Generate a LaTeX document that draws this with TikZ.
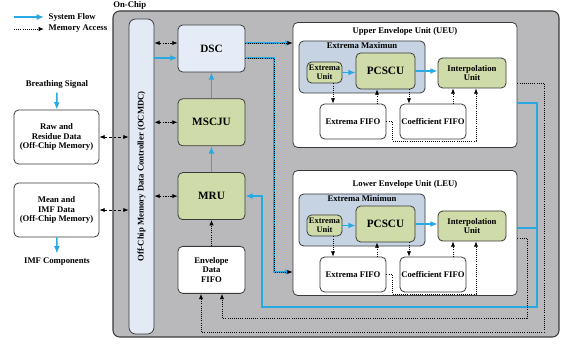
\documentclass[tikz,border=0pt]{standalone}
\usepackage{fontspec}
\setmainfont{Liberation Serif}
\newfontfamily\diagfont{Liberation Serif}
\usepackage{graphicx}
\usepackage{tikz}
\usetikzlibrary{arrows.meta, positioning, calc}
\definecolor{chipfill}{HTML}{B9B9BC}
\definecolor{ctrlfill}{HTML}{E3EAF5}
\definecolor{dscfill}{HTML}{E6ECF7}
\definecolor{unitgreen}{HTML}{CFDBA8}
\definecolor{extremafill}{HTML}{C6D3E3}
\definecolor{flowblue}{HTML}{29A9E1}
\definecolor{boxstroke}{HTML}{3A3A3A}
\newcommand{\smalltext}{\diagfont\fontsize{6.5}{7.3}\selectfont\bfseries}
\newcommand{\bigtext}{\diagfont\fontsize{8.4}{9.5}\selectfont\bfseries}

\begin{document}
\begin{tikzpicture}[
        x=0.75pt, y=-0.75pt,
        node distance=19.5pt,
        box/.style={
            rectangle,
            rounded corners=3.5pt,
            draw=boxstroke,
            line width=0.6pt,
            align=center,
            font=\smalltext,
            inner sep=1pt
        },
        greenbox/.style={box, fill=unitgreen},
        whitebox/.style={box, fill=white},
        core/.style={minimum width=50.25pt, minimum height=35.25pt},
        flow/.style={-{Latex[length=5.5pt, width=4.5pt]}, draw=flowblue, line width=1.1pt},
        mem/.style={-{Latex[length=4pt, width=3.2pt]}, densely dotted, line width=0.6pt},
        memio/.style={{Latex[length=4pt, width=3.2pt]}-{Latex[length=4pt, width=3.2pt]}, dash pattern=on 1.5pt off 1pt on 0.5pt off 1pt, line width=0.6pt},
        ext/.style={memio, dash pattern=on 2pt off 1.5pt}
    ]
        \useasboundingbox (0,0) rectangle (565,345);

        % Legend
        \coordinate (flowtail) at (14,17);
        \node[font=\smalltext, anchor=west] (flowkey) at (44,17) {System Flow};
        \coordinate (memtail) at (14,29);
        \node[font=\smalltext, anchor=west] (memkey) at (44,29) {Memory Access};

        % On-chip area and controller
        \node[box, fill=chipfill, rounded corners=5pt, line width=0.8pt, minimum width=334.5pt, minimum height=244.5pt,
              label={[anchor=south west, inner sep=0.5pt, font=\smalltext]north west:On-Chip}] (chip) at (336,174) {};
        \node[box, fill=ctrlfill, rounded corners=5pt, minimum width=18.75pt, minimum height=236.25pt] (ocmdc) at (141.5,176.5)
            {\rotatebox{90}{Off-Chip Memory Data Controller (OCMDC)}};

        % Off-chip memories
        \node[whitebox, minimum width=63.75pt, minimum height=40.5pt] (raw) at (56.5,137) {Raw and\\Residue Data\\(Off-Chip Memory)};
        \node[whitebox, minimum width=63.75pt, minimum height=40.5pt] (mean) at (56.5,210) {Mean and\\IMF Data\\(Off-Chip Memory)};
        \node[font=\smalltext] (breath) at (57,84) {Breathing Signal};
        \node[font=\smalltext] (imf) at (57,262) {IMF Components};

        % Main column
        \node[box, core, fill=dscfill, font=\bigtext] (dsc) at (211.5,48.5) {DSC};
        \node[greenbox, core, font=\bigtext, below=of dsc] (mscju) {MSCJU};
        \node[greenbox, core, font=\bigtext, below=of mscju] (mru) {MRU};
        \node[whitebox, core, below=of mru] (fifo) {Envelope\\Data\\FIFO};

        % Envelope units
        \foreach \p/\dy/\ey/\name/\ext in {u/0/85/{Upper Envelope Unit (UEU)}/{Extrema Maximun},
                                          l/153/80/{Lower Envelope Unit (LEU)}/{Extrema Minimun}} {
            \begin{scope}[shift={(0,\dy)}]
                \node[whitebox, minimum width=168pt, minimum height=93.75pt] (\p eu) at (405,\ey) {};
                \node[font=\smalltext] (\p title) at (405,31) {\name};
                \node[box, fill=extremafill, minimum width=94.5pt, minimum height=39pt,
                      label={[anchor=north, font=\smalltext, inner sep=1pt]north:\ext}] (\p region) at (362,67) {};
                \node[greenbox, font=\diagfont\fontsize{6.3}{6.6}\selectfont\bfseries, inner sep=0.3pt,
                      minimum width=26.25pt, minimum height=15.75pt] (\p ext) at (324.5,72.5) {Extrema\\Unit};
                \node[greenbox, font=\bigtext, minimum width=44.25pt, minimum height=27pt] (\p pcscu) at (385.5,71) {PCSCU};
                \node[greenbox, minimum width=51pt, minimum height=22.5pt] (\p interp) at (472,73) {Interpolation\\Unit};
                \node[whitebox, minimum width=49.5pt, minimum height=26.25pt] (\p efifo) at (353,121.5) {Extrema FIFO};
                \node[whitebox, inner sep=0.3pt, minimum width=49.5pt, minimum height=26.25pt] (\p cfifo) at (433,121.5) {Coefficient FIFO};

                \draw[flow] (\p ext.east) -- (\p ext.east -| \p pcscu.west);
                \draw[flow] (\p pcscu.east) -- (\p pcscu.east -| \p interp.west);
                \draw[mem] (\p ext.south -| 333,0) -- (\p efifo.north -| 333,0);
                \draw[mem] (\p efifo.north -| 377,0) -- (\p pcscu.south -| 377,0);
                \draw[mem] (\p pcscu.south -| 409,0) -- (\p cfifo.north -| 409,0);
                \draw[mem] (\p cfifo.north -| 453,0) -- (\p interp.south -| 453,0);
                \draw[mem] (\p efifo.east) -| (392,141) -| (\p interp.south -| 476,0);
            \end{scope}
        }

        % Arrows
        \draw[flow] (flowtail) -- (flowkey.west);
        \draw[mem] (memtail) -- (memkey.west);
        \draw[flow] (breath) -- (raw);
        \draw[flow] (mean) -- (imf);
        \draw[ext] (raw.east) -- (raw.east -| ocmdc.west);
        \draw[ext] (mean.east) -- (mean.east -| ocmdc.west);

        \draw[memio] (ocmdc.east |- 0,43) -- (dsc.west |- 0,43);
        \draw[flow] (ocmdc.east |- 0,58) -- (dsc.west |- 0,58);
        \draw[memio] (ocmdc.east |- mscju.west) -- (mscju.west);
        \draw[memio] (ocmdc.east |- mru.west) -- (mru.west);

        \draw[flow] (mscju) -- (dsc);
        \draw[flow] (mru) -- (mscju);
        \draw[mem] (fifo) -- (mru);

        \draw[flow] (dsc.east |- 0,43) -- (ueu.west |- 0,43);
        \draw[mem] (dsc.east |- 0,43) -- (ueu.west |- 0,43);
        \draw[flow] (dsc.east |- 0,58) -| (274,272) -- (leu.west |- 0,272);
        \draw[mem] (dsc.east |- 0,58) -| (274,272) -- (leu.west |- 0,272);

        % Feedback to MRU and envelope FIFO
        \coordinate (flowjoin) at (537,228);
        \draw[flow] (ueu.east |- 0,103) -| (537,307) -| (mru.east -| 262,0) -- (mru.east);
        \draw[flow, -] (leu.east |- 0,228) -- (flowjoin);
        \draw[mem] (ueu.east |- 0,83) -| (544,332) -| (fifo.south -| 201,0);
        \draw[mem] (leu.east |- 0,238) -| (527,318) -| (fifo.south -| 222,0);

    \end{tikzpicture}
\end{document}
